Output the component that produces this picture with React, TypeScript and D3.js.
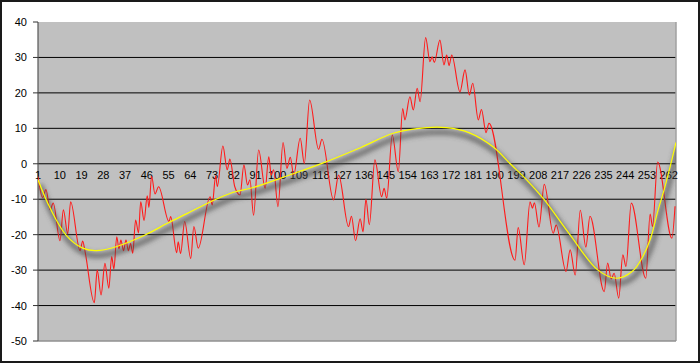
import React from 'react';
import * as d3 from 'd3';

// Red series: category position and value at each turning point
const redCategory = [
  1, 2.9, 4.3, 6.0, 7.3, 10.1, 11.5, 13.3, 14.5, 18.4, 19.5, 20.4, 24.3, 25.5, 27.1, 28.7, 30.3, 31.5, 32.4, 33.6,
  34.5, 35.3, 36.4, 37.4, 38.4, 39.3, 40.2, 41.4, 42.6, 43.5, 44.9, 46.2, 46.9, 48.0, 49.4, 50.9, 55.2, 55.9, 58.4, 59.0,
  60.0, 61.7, 64.2, 65.5, 67.3, 72.2, 73.1, 74.5, 75.2, 77.5, 79.3, 80.4, 82.4, 84.6, 86.2, 87.7, 88.7, 90.2, 92.3, 95.0,
  96.5, 97.5, 98.5, 100.3, 102.4, 104.0, 105.4, 106.8, 109.5, 111.2, 113.4, 117.1, 118.5, 123.3, 125.4, 129.5, 130.7, 132.4, 134.3, 135.5,
  136.7, 138.1, 140.4, 143.2, 144.2, 145.3, 147.6, 150.1, 151.9, 152.8, 154.9, 156.3, 157.9, 159.1, 161.4, 163.2, 164.1, 165.0, 167.3, 169.0,
  170.1, 171.1, 172.2, 175.6, 177.7, 179.5, 180.9, 183.2, 184.5, 186.4, 187.6, 198.4, 199.7, 202.2, 204.6, 205.6, 206.4, 208.3, 210.5, 214.2,
  215.4, 219.5, 221.2, 223.3, 225.4, 227.7, 229.4, 235.3, 236.7, 238.2, 239.4, 241.3, 243.0, 244.3, 246.5, 252.5, 254.3, 255.3, 257.4, 263.3,
  264.6,
];
const redValue = [
  -3.6, -9.5, -7.3, -13, -11.1, -21.7, -13, -19.8, -10.7, -24.5, -21.8, -24.5, -39.2, -30, -37, -28.1, -35.1, -26.2, -29.7, -20.6,
  -24, -21.5, -24.5, -21.5, -24.5, -22.5, -25.2, -15.9, -19.5, -10.7, -16, -9, -12.3, -3.5, -8.5, -6.5, -16.3, -14.9, -25.1, -22,
  -25.3, -16.3, -26.7, -17.7, -23.8, -9.3, -11.6, -3.4, -6.4, 5.0, -1.7, 1.3, -6.4, -8.8, -0.3, -6, -4.5, -14.5, 3.9, -6.9,
  2, -3.2, -1.7, -12.1, 6, -1.3, 1.8, -3.2, 7.2, 0.1, 18, 4.1, 6.9, -10.2, -3.2, -17.7, -14.8, -21.7, -15.5, -19.2,
  -10, -17.2, 1.1, -9.3, -6.9, -9.7, 8.1, -2.2, 15.6, 12.4, 18.9, 15.2, 21.3, 17.5, 35.6, 28.8, 30.2, 28.6, 34.9, 27.9,
  30.7, 27.7, 30.7, 20.3, 26.5, 19.4, 22.7, 12.4, 15.3, 8.8, 11.4, -27.2, -18, -28.5, -10.7, -12.5, -11, -17.8, -5.8, -19.6,
  -17.3, -30.4, -24.3, -31.4, -13.1, -23.5, -14.8, -36.1, -28, -32.5, -30.9, -37.9, -25.7, -29, -11.1, -32.3, -14.2, -17.7, 0.5, -21,
  -12,
];

// Yellow trend line
const trendCategory = [
  1, 6, 12.6, 19.5, 25, 33.3, 45.3, 54.5, 62.8, 72.5, 80.7, 90, 103.3, 118.5, 134.6, 148, 161.8, 170, 179.3, 189.3,
  196.4, 203.3, 210.3, 221.1, 232.7, 240.6, 247.2, 251, 254.5, 257.4, 260, 262.5, 265,
];
const trendValue = [
  -4.5, -12.5, -20.1, -23.8, -24.5, -23.4, -20.1, -16.8, -14, -10.7, -8.3, -6.7, -3.6, 0.1, 4.6, 8.6, 10.2, 10.2, 8.8, 4.8,
  0, -4.6, -10, -20, -30, -32.3, -30.2, -26.5, -21, -13.5, -7.5, -1, 6,
];

const xTickLabels = [1, 10, 19, 28, 37, 46, 55, 64, 73, 82, 91, 100, 109, 118, 127, 136, 145, 154, 163, 172, 181, 190, 199, 208, 217, 226, 235, 244, 253, 262];
const yTickValues = [-50, -40, -30, -20, -10, 0, 10, 20, 30, 40];
const categoryCount = 265;

export default function App() {
  const W = 700, H = 363;
  const left = 38, right = 676, top = 22, bottom = 341;
  const x = d3.scaleLinear().domain([1, categoryCount]).range([left, right]);
  const y = d3.scaleLinear().domain([-50, 40]).range([bottom, top]);

  const redPts: [number, number][] = redCategory.map((c, i) => [c, redValue[i]]);
  const trendPts: [number, number][] = trendCategory.map((c, i) => [c, trendValue[i]]);

  const redLine = d3.line<[number, number]>().x(d => x(d[0])).y(d => y(d[1])).curve(d3.curveMonotoneX);
  const trendLine = d3.line<[number, number]>().x(d => x(d[0])).y(d => y(d[1])).curve(d3.curveCatmullRom.alpha(0.5));

  const font = "'Liberation Sans', Arial, sans-serif";

  return (
    <svg width={W} height={H} style={{ position: 'absolute', left: 0, top: 0, display: 'block' }} fontFamily={font}>
      <defs>
        <clipPath id="plotClip">
          <rect x={left} y={top} width={right - left} height={bottom - top} />
        </clipPath>
        <filter id="blurShadow" x="-10%" y="-30%" width="120%" height="160%">
          <feGaussianBlur stdDeviation="2.4" />
        </filter>
      </defs>
      <rect x={0} y={0} width={W} height={H} fill="#ffffff" />
      <rect x={1} y={1} width={W - 2} height={H - 2} fill="none" stroke="#1a1a1a" strokeWidth={2} />

      {/* plot area */}
      <rect x={left} y={top} width={right - left} height={bottom - top} fill="#c0c0c0" />
      {/* gridlines */}
      {yTickValues.filter(v => v > -50 && v < 40).map(v => (
        <line key={'g' + v} x1={left} x2={right} y1={y(v)} y2={y(v)} stroke="#000" strokeWidth={1} />
      ))}
      <line x1={right} x2={right} y1={top} y2={bottom} stroke="#a0a0a0" strokeWidth={1.5} />
      <line x1={left} x2={right} y1={bottom} y2={bottom} stroke="#909090" strokeWidth={1.5} />

      {/* y axis */}
      <line x1={left} x2={left} y1={top} y2={bottom} stroke="#555" strokeWidth={1.2} />
      {yTickValues.map(v => (
        <g key={'t' + v}>
          <line x1={left - 5} x2={left} y1={y(v)} y2={y(v)} stroke="#333" strokeWidth={1} />
          <text x={27} y={y(v) + 4} textAnchor="end" fontSize={11} fill="#000">{v}</text>
        </g>
      ))}

      {/* x labels */}
      {xTickLabels.map(c => (
        <text key={'x' + c} x={x(c)} y={179} textAnchor="middle" fontSize={11} fill="#000">{c}</text>
      ))}

      <g clipPath="url(#plotClip)">
        <path d={redLine(redPts) || ''} fill="none" stroke="#ff1a1a" strokeWidth={1.1} strokeLinejoin="round" />
        <path d={trendLine(trendPts) || ''} fill="none" stroke="#4a4a4a" strokeOpacity={0.7} strokeWidth={5}
          transform="translate(2,5)" filter="url(#blurShadow)" />
        <path d={trendLine(trendPts) || ''} fill="none" stroke="#ffff00" strokeWidth={1.2} />
      </g>
    </svg>
  );
}
